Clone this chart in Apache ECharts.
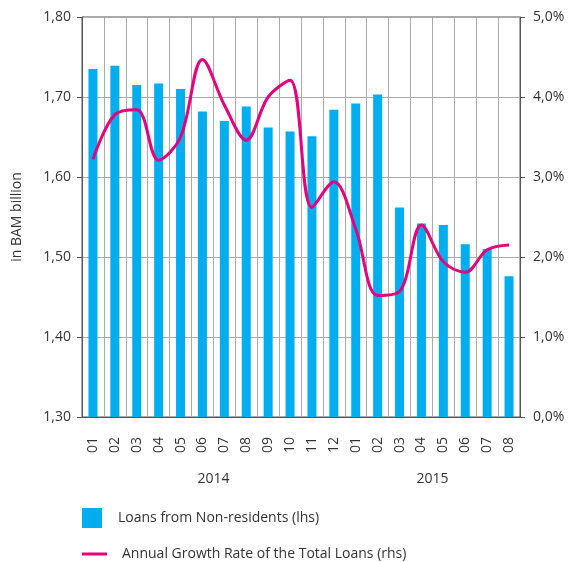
<!DOCTYPE html>
<html>
<meta charset="UTF-8">
<title>loans-non-residents</title>
<style type="text/css">
    html,
    body {
        margin: 0px;
        height: 100%;
        width: 100%;
    }

    #chart {
        width: 571px;
        height: 562px;
    }
</style>
<script src="https://cdn.jsdelivr.net/npm/echarts@6/dist/echarts.min.js"></script>

<body>
    <div id="chart"></div>
    <script>
        const months = ['01', '02', '03', '04', '05', '06', '07', '08', '09', '10', '11', '12',
            '01', '02', '03', '04', '05', '06', '07', '08'];
        const years = ['2014', '2015'];
        const monthsPerYear = [12, 8];
        // in BAM billion (lhs)
        const loans = [1.735, 1.739, 1.715, 1.717, 1.710, 1.682, 1.670, 1.688, 1.662, 1.657, 1.651, 1.684,
            1.692, 1.703, 1.562, 1.542, 1.540, 1.516, 1.510, 1.476];
        // annual growth rate in % (rhs)
        const growth = [3.22, 3.78, 3.84, 3.21, 3.50, 4.47, 3.90, 3.46, 4.00, 4.21, 2.62, 2.94,
            2.35, 1.52, 1.57, 2.40, 1.94, 1.81, 2.09, 2.15];

        const barName = 'Loans from Non-residents (lhs)';
        const lineName = 'Annual Growth Rate of the Total Loans (rhs)';

        // middle of each year's group of months, in category units
        const yearMid = {};
        let start = 0;
        years.forEach((y, i) => {
            yearMid[start + monthsPerYear[i] / 2] = y;
            start += monthsPerYear[i];
        });

        const font = '"Open Sans", sans-serif';
        const txt = { color: '#333', fontFamily: font, fontSize: 14 };
        const axisCol = '#555';
        const gridCol = '#aaa';

        const chart = echarts.init(document.querySelector('#chart'));
        const options = {
            animation: false,
            grid: {
                left: 82, right: 51, top: 17, bottom: 145,
                show: true, borderColor: axisCol, borderWidth: 1
            },
            legend: [{
                data: [barName],
                left: 82, top: 508, padding: 0,
                icon: 'rect', itemWidth: 20, itemHeight: 20,
                textStyle: Object.assign({ padding: [0, 0, 0, 11] }, txt)
            }, {
                data: [lineName],
                left: 82, top: 547, padding: 0,
                icon: 'path://M0,0 H25 V3 H0 Z', itemWidth: 25, itemHeight: 3,
                textStyle: Object.assign({ padding: [0, 0, 0, 10] }, txt)
            }],
            xAxis: [{
                type: 'category',
                data: months,
                axisLine: { lineStyle: { color: axisCol } },
                axisTick: { length: 6, lineStyle: { color: axisCol } },
                axisLabel: Object.assign({ rotate: 90, margin: 20, interval: 0 }, txt),
                splitLine: { show: true, lineStyle: { color: gridCol } }
            }, {
                type: 'value',
                min: 0, max: months.length, interval: 1,
                position: 'bottom', offset: 47,
                axisLine: { show: false },
                axisTick: { show: false },
                splitLine: { show: false },
                axisLabel: Object.assign({
                    formatter: v => yearMid[v] || '',
                    showMinLabel: true, showMaxLabel: true
                }, txt)
            }],
            yAxis: [{
                type: 'value',
                min: 1.3, max: 1.8, interval: 0.1,
                name: 'in BAM billion',
                nameLocation: 'middle', nameGap: 58,
                nameTextStyle: txt,
                axisLine: { show: true, lineStyle: { color: axisCol } },
                axisTick: { show: true, length: 5, lineStyle: { color: axisCol } },
                axisLabel: Object.assign({ margin: 11, formatter: v => v.toFixed(2).replace('.', ',') }, txt),
                splitLine: { lineStyle: { color: gridCol } }
            }, {
                type: 'value',
                min: 0, max: 5, interval: 1,
                position: 'right',
                axisLine: { show: true, lineStyle: { color: axisCol } },
                axisTick: { show: true, length: 5, lineStyle: { color: axisCol } },
                axisLabel: Object.assign({ margin: 13, formatter: v => v.toFixed(1).replace('.', ',') + '%' }, txt),
                splitLine: { show: false }
            }],
            series: [{
                name: barName,
                type: 'bar',
                xAxisIndex: 0, yAxisIndex: 0,
                barWidth: 9,
                itemStyle: { color: '#00AEEF' },
                data: loans
            }, {
                name: lineName,
                type: 'line',
                xAxisIndex: 0, yAxisIndex: 1,
                smooth: 0.35,
                symbol: 'none',
                lineStyle: { color: '#E5007D', width: 3 },
                itemStyle: { color: '#E5007D' },
                data: growth
            }]
        };
        chart.setOption(options);
    </script>
</body>

</html>
